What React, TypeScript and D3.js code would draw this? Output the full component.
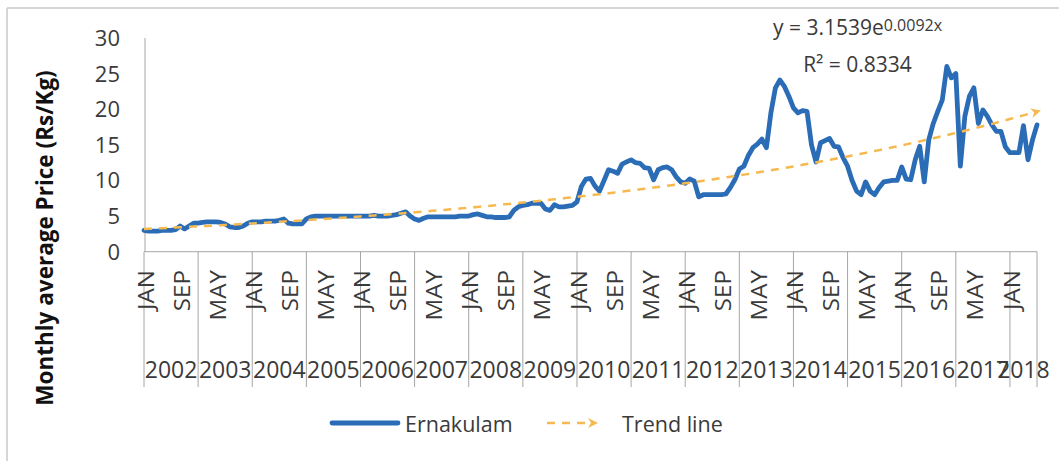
import * as d3 from 'd3';

// Monthly average price, Ernakulam (Rs/Kg), Jan 2002 .. Jul 2018
const ernakulamPrice: number[] = [
  3.0, 2.9, 2.9, 2.9, 3.0, 3.0, 3.0, 3.1, 3.6, 3.2, 3.6, 4.0, // 2002
  4.0, 4.1, 4.2, 4.2, 4.2, 4.1, 3.9, 3.5, 3.4, 3.4, 3.6, 4.0, // 2003
  4.2, 4.2, 4.2, 4.3, 4.3, 4.3, 4.4, 4.6, 4.0, 3.9, 3.9, 3.9, // 2004
  4.6, 4.9, 5.0, 5.0, 5.0, 5.0, 5.0, 5.0, 5.0, 5.0, 5.0, 5.0, // 2005
  5.0, 5.0, 5.0, 5.1, 5.0, 5.0, 5.0, 5.1, 5.2, 5.4, 5.6, 5.0, // 2006
  4.6, 4.4, 4.7, 4.9, 4.9, 4.9, 4.9, 4.9, 4.9, 4.9, 5.0, 5.0, // 2007
  5.0, 5.2, 5.3, 5.1, 4.9, 4.9, 4.8, 4.8, 4.8, 4.9, 5.8, 6.3, // 2008
  6.5, 6.6, 6.8, 6.8, 6.8, 6.0, 5.8, 6.6, 6.3, 6.3, 6.4, 6.5, // 2009
  7.0, 9.2, 10.2, 10.3, 9.2, 8.5, 10.0, 11.5, 11.3, 11.0, 12.3, 12.6, // 2010
  12.9, 12.5, 12.4, 11.8, 11.7, 10.1, 11.5, 11.8, 11.9, 11.5, 10.5, 9.8, // 2011
  9.6, 10.2, 9.9, 7.7, 8.0, 8.0, 8.0, 8.0, 8.0, 8.1, 9.0, 10.1, // 2012
  11.6, 12.0, 13.5, 14.6, 15.1, 15.8, 14.6, 19.5, 23.0, 24.1, 23.2, 21.8, // 2013
  20.2, 19.5, 19.8, 19.7, 15.0, 12.6, 15.3, 15.6, 15.9, 14.8, 14.7, 13.2, // 2014
  12.0, 10.0, 8.5, 8.0, 9.8, 8.5, 8.0, 9.0, 9.8, 9.9, 10.0, 10.0, // 2015
  11.9, 10.2, 10.1, 12.9, 14.8, 9.8, 15.7, 18.0, 19.7, 21.3, 26.0, 24.4, // 2016
  25.0, 12.0, 19.0, 21.8, 23.0, 18.0, 19.9, 19.0, 17.8, 16.9, 16.9, 14.7, // 2017
  13.9, 13.9, 13.9, 17.7, 12.9, 15.7, 17.8, // 2018
];

const years = [2002, 2003, 2004, 2005, 2006, 2007, 2008, 2009, 2010, 2011, 2012, 2013, 2014, 2015, 2016, 2017, 2018];
const monthNames = ['JAN', 'FEB', 'MAR', 'APR', 'MAY', 'JUN', 'JUL', 'AUG', 'SEP', 'OCT', 'NOV', 'DEC'];
const labelEvery = 8;
const yTicks = [0, 5, 10, 15, 20, 25, 30];

// Exponential trend shown on the chart: y = a * e^(b x), x = 1..n
const trendA = 3.1539;
const trendB = 0.0092;
const trendR2 = '0.8334';

const W = 1059;
const H = 461;
const FONT = '"Open Sans", "Liberation Sans", sans-serif';
const TEXT = '#3a3a3a';
const AXIS = '#a6a6a6';
const BLUE = '#2b6cb6';
const TREND = '#f5b94f';

export default function App() {
  const n = ernakulamPrice.length;
  const x = d3.scaleLinear().domain([0, n - 1]).range([144, 1037]);
  const y = d3.scaleLinear().domain([0, 30]).range([251.7, 38]);
  const axisY = y(0);
  const sepBottom = 387;

  const priceLine = d3.line<number>().x((_, i) => x(i)).y(d => y(d));
  const trendValues = d3.range(n).map(i => trendA * Math.exp(trendB * (i + 1)));
  const trendLine = d3.line<number>().x((_, i) => x(i)).y(d => y(d));

  const boundaries = years.map((_, k) => Math.min(k * 12, n - 1));
  boundaries.push(n - 1);
  const monthTicks = d3.range(0, n, labelEvery);

  return (
    <svg width={W} height={H} style={{ position: 'fixed', left: 0, top: 0, background: '#fff' }} fontFamily={FONT}>
      <defs>
        <marker id="trendArrow" viewBox="0 0 10 10" refX="6" refY="5" markerWidth="4" markerHeight="4" orient="auto">
          <path d="M0,0 L10,5 L0,10 L3,5 z" fill={TREND} />
        </marker>
      </defs>
      <rect width={W} height={H} fill="#fff" />

      {/* chart frame (cut at right/bottom) */}
      <line x1={7} y1={8} x2={W} y2={8} stroke="#c8c8c8" strokeWidth={1.5} />
      <line x1={7} y1={8} x2={7} y2={H} stroke="#c8c8c8" strokeWidth={1.5} />

      {/* y axis */}
      <line x1={x(0) + 1} y1={y(30)} x2={x(0) + 1} y2={axisY} stroke={AXIS} strokeWidth={1} />
      {yTicks.map(t => (
        <text key={t} x={120} y={y(t)} dy="0.36em" textAnchor="end" fontSize={22} fill={TEXT}>{t}</text>
      ))}
      <text transform={`translate(53,238) rotate(-90)`} textAnchor="middle" fontSize={22.5} fontWeight={700} fill="#111">
        Monthly average Price (Rs/Kg)
      </text>

      {/* x axis: two-level category axis */}
      <line x1={x(0)} y1={axisY} x2={x(n - 1)} y2={axisY} stroke={AXIS} strokeWidth={1} />
      {boundaries.map((b, k) => (
        <line key={k} x1={x(b)} y1={axisY} x2={x(b)} y2={sepBottom} stroke={AXIS} strokeWidth={1} />
      ))}
      {monthTicks.map(i => (
        <text key={i} transform={`translate(${x(i) + 2},270) rotate(-90) scale(1.15,1)`} dy="0.36em" textAnchor="end" fontSize={21} fill={TEXT}>
          {monthNames[i % 12]}
        </text>
      ))}
      {years.map((yr, k) => {
        const a = x(k * 12);
        const b = x(Math.min((k + 1) * 12, n - 1));
        return (
          <text key={yr} x={(a + b) / 2} y={378} textAnchor="middle" fontSize={23} fill={TEXT}>{yr}</text>
        );
      })}

      {/* series */}
      <path d={priceLine(ernakulamPrice) ?? ''} fill="none" stroke={BLUE} strokeWidth={4.8} strokeLinejoin="round" strokeLinecap="round" />
      <path d={trendLine(trendValues) ?? ''} fill="none" stroke={TREND} strokeWidth={2.5} strokeDasharray="8 7" markerEnd="url(#trendArrow)" />

      {/* trend equation */}
      <text x={857.5} y={35} textAnchor="middle" fontSize={21} fill={TEXT}>
        y = {trendA}e<tspan fontSize={16} dy={-4}>{trendB}x</tspan>
      </text>
      <text x={857.5} y={71.7} textAnchor="middle" fontSize={21} fill={TEXT}>R² = {trendR2}</text>

      {/* legend */}
      <line x1={332} y1={423} x2={398} y2={423} stroke={BLUE} strokeWidth={4.8} strokeLinecap="round" />
      <text x={405} y={432} fontSize={21.5} fill={TEXT}>Ernakulam</text>
      <line x1={547} y1={423} x2={594} y2={423} stroke={TREND} strokeWidth={2.5} strokeDasharray="8 7" markerEnd="url(#trendArrow)" />
      <text x={622} y={432} fontSize={21.5} fill={TEXT}>Trend line</text>
    </svg>
  );
}
